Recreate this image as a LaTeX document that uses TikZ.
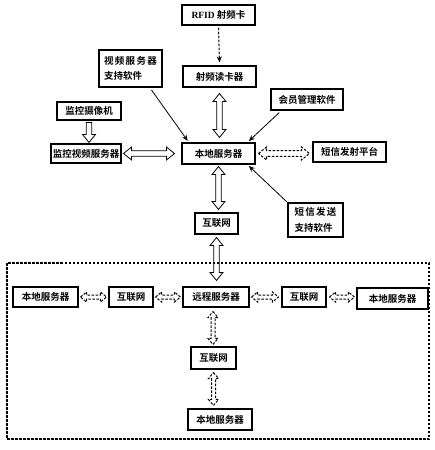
\documentclass[tikz,border=0pt]{standalone}
\usepackage{fontspec}
\newfontfamily\cjk{Noto Sans CJK SC Bold}
\newfontfamily\latb{Liberation Serif}
\usetikzlibrary{calc,arrows.meta}
\def\arW{6.5pt}\def\arS{2.8pt}\def\arL{8pt}
\newcommand\smallarrows{\def\arW{5pt}\def\arS{2pt}\def\arL{6pt}}
% vertical hollow double arrow: #2 top point, #3 bottom point
\newcommand\vdbl[3][]{%
  \draw[hol,#1] let \p1=(#2), \p2=(#3) in
   (\x1,\y1) -- (\x1+\arW,\y1-\arL) -- (\x1+\arS,\y1-\arL) -- (\x1+\arS,\y2+\arL)
   -- (\x1+\arW,\y2+\arL) -- (\x1,\y2) -- (\x1-\arW,\y2+\arL) -- (\x1-\arS,\y2+\arL)
   -- (\x1-\arS,\y1-\arL) -- (\x1-\arW,\y1-\arL) -- cycle;}
% horizontal hollow double arrow: #2 left point, #3 right point
\newcommand\hdbl[3][]{%
  \draw[hol,#1] let \p1=(#2), \p2=(#3) in
   (\x1,\y1) -- (\x1+\arL,\y1+\arW) -- (\x1+\arL,\y1+\arS) -- (\x2-\arL,\y1+\arS)
   -- (\x2-\arL,\y1+\arW) -- (\x2,\y1) -- (\x2-\arL,\y1-\arW) -- (\x2-\arL,\y1-\arS)
   -- (\x1+\arL,\y1-\arS) -- (\x1+\arL,\y1-\arW) -- cycle;}
% vertical hollow single arrow pointing down: #2 top point, #3 tip
\newcommand\vsgl[3][]{%
  \draw[hol,#1] let \p1=(#2), \p2=(#3) in
   (\x1-\arS,\y1) -- (\x1+\arS,\y1) -- (\x1+\arS,\y2+\arL) -- (\x1+\arW,\y2+\arL)
   -- (\x1,\y2) -- (\x1-\arW,\y2+\arL) -- (\x1-\arS,\y2+\arL) -- cycle;}
\newcommand\spc{\hspace{1.3pt}}
\begin{document}
\begin{tikzpicture}[x=1pt,y=-1pt,
  box/.style={draw,line width=1.1pt,inner sep=0pt,align=left,
    font=\cjk\fontsize{9.5}{15.5}\selectfont},
  hol/.style={line width=0.8pt,line join=miter},
  dsh/.style={dash pattern=on 2.5pt off 1.5pt,line width=1pt},
  ln/.style={line width=0.8pt,-{Stealth[length=6pt,width=5pt]},shorten <=3pt,shorten >=2pt}]
\useasboundingbox (0,0) rectangle (435,450);
% boxes
\node[box,minimum width=73,minimum height=20] (rfid) at (218.5,15) {{\latb\bfseries RFID} 射频卡};
\node[box,minimum width=73,minimum height=21] (reader) at (219.5,76.5) {射频读卡器};
\node[box,minimum width=63,minimum height=37] (vs) at (130.5,68.5) {视\spc 频\spc 服\spc 务\spc 器\\支持软件};
\node[box,minimum width=72,minimum height=21] (member) at (307,99.5) {会员管理软件};
\node[box,minimum width=64,minimum height=18] (cam) at (89,111) {监控摄像机};
\node[box,minimum width=70,minimum height=19] (mvs) at (86,153.5) {监控视频服务器};
\node[box,minimum width=73,minimum height=21] (local) at (218.5,153.5) {本地服务器};
\node[box,minimum width=73,minimum height=20] (sms) at (349.5,152) {短信发射平台};
\node[box,minimum width=43,minimum height=21] (net1) at (216.5,223.5) {互联网};
\node[box,minimum width=55,minimum height=34] (smssw) at (315.5,220) {短\spc 信\spc 发\spc 送\\支持软件};
\node[draw,dsh,line width=1.1pt,minimum width=422,minimum height=176,inner sep=0pt] (region) at (218,351) {};
\node[box,minimum width=65,minimum height=20] (l1) at (45.5,297) {本地服务器};
\node[box,minimum width=44,minimum height=20] (n2) at (131,297) {互联网};
\node[box,minimum width=66,minimum height=20] (remote) at (216,297) {远程服务器};
\node[box,minimum width=44,minimum height=20] (n3) at (304,297) {互联网};
\node[box,minimum width=71,minimum height=21] (l2) at (392.5,298.5) {本地服务器};
\node[box,minimum width=45,minimum height=22] (n4) at (213.5,358) {互联网};
\node[box,minimum width=64,minimum height=21] (l3) at (220,419.5) {本地服务器};
% connectors
\draw[ln,dsh,shorten <=0pt,shorten >=0pt] ([yshift=-2pt]rfid.south) -- ([yshift=3pt]reader.north);
\draw[ln] ($(vs.south)!0.6!(vs.south east)$) -- ($(local.north west)!0.1!(local.north east)$);
\draw[ln] ($(member.south west)!0.15!(member.south east)$) -- ($(local.north east)!0.11!(local.north west)$);
\draw[ln,shorten <=1pt] (smssw.north west) -- ($(local.south east)!0.11!(local.south west)$);
\vdbl{[yshift=-6pt]reader.south}{[yshift=5pt]local.north}
\vsgl{[yshift=-2pt]cam.south}{[yshift=1pt]mvs.north}
\hdbl{[xshift=2pt]mvs.east}{[xshift=-7pt]local.west}
\hdbl[dsh]{[xshift=3pt]local.east}{[xshift=-3pt]sms.west}
\vdbl{[yshift=-2pt]local.south}{[yshift=3pt]net1.north}
\vdbl{[yshift=-3pt]net1.south}{[yshift=6pt]remote.north}
\smallarrows
\hdbl[dsh]{[xshift=2pt]l1.east}{[xshift=-2pt]n2.west}
\hdbl[dsh]{[xshift=2pt]n2.east}{[xshift=-2pt]remote.west}
\hdbl[dsh]{[xshift=2pt]remote.east}{[xshift=-3pt]n3.west}
\hdbl[dsh]{[xshift=3pt]n3.east}{[xshift=-2pt,yshift=1.5pt]l2.west}
\vdbl[dsh]{[xshift=-3pt,yshift=-4pt]remote.south}{[yshift=2pt]n4.north}
\vdbl[dsh]{[yshift=-3pt]n4.south}{[yshift=3pt]l3.north}
\end{tikzpicture}
\end{document}
